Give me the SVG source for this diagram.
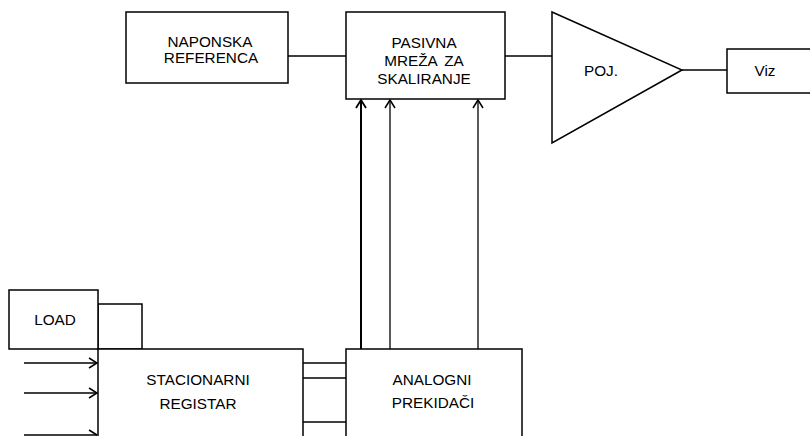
<svg xmlns="http://www.w3.org/2000/svg" width="810" height="436" viewBox="0 0 810 436">
<defs>
<style>
.box{fill:#fff;stroke:#000;stroke-width:1.5}
.ln{fill:none;stroke:#000;stroke-width:1.3}
.hd{fill:none;stroke:#000;stroke-width:1.5}
text{font-family:"Liberation Sans",Arial,sans-serif;font-size:15.3px;fill:#000;text-anchor:middle}
</style>
</defs>
<rect width="810" height="436" fill="#fff"/>
<g id="connectors">
<line class="ln" x1="288" y1="56" x2="346" y2="56"/>
<line class="ln" x1="505" y1="56" x2="552" y2="56"/>
<line class="ln" x1="682" y1="70" x2="727" y2="70"/>
<line class="ln" x1="361" y1="349" x2="361" y2="100" style="stroke-width:2"/>
<polyline class="hd" points="356,108 361,100 366,108" style="stroke-width:1.8"/>
<line class="ln" x1="390" y1="349" x2="390" y2="100"/>
<polyline class="hd" points="385,108 390,100 395,108"/>
<line class="ln" x1="478" y1="349" x2="478" y2="100"/>
<polyline class="hd" points="473,108 478,100 483,108"/>
<line class="ln" x1="303" y1="363" x2="346" y2="363"/>
<line class="ln" x1="303" y1="378" x2="346" y2="378"/>
<line class="ln" x1="303" y1="422" x2="346" y2="422"/>
<line class="ln" x1="24" y1="363" x2="97" y2="363"/>
<polyline class="hd" points="89,358 97,363 89,368"/>
<line class="ln" x1="24" y1="393" x2="97" y2="393"/>
<polyline class="hd" points="89,388 97,393 89,398"/>
<line class="ln" x1="24" y1="435" x2="97" y2="435"/>
<polyline class="hd" points="89,430 97,435"/>
</g>
<g id="naponska">
<rect class="box" x="126" y="12" width="162" height="71"/>
<text x="210" y="47">NAPONSKA</text>
<text x="211" y="63">REFERENCA</text>
</g>
<g id="pasivna">
<rect class="box" x="346" y="12" width="159" height="87"/>
<text x="424" y="47.5">PASIVNA</text>
<text x="424" y="66" style="word-spacing:3px">MREŽA ZA</text>
<text x="424" y="84">SKALIRANJE</text>
</g>
<g id="poj">
<polygon class="box" points="552,12 682,70 552,143"/>
<text x="601" y="76">POJ.</text>
</g>
<g id="viz">
<rect class="box" x="727" y="49" width="90" height="44"/>
<text x="765" y="76">Viz</text>
</g>
<g id="load">
<rect class="box" x="98" y="304" width="44" height="45"/>
<rect class="box" x="9" y="290" width="89" height="59"/>
<text x="55" y="324.5">LOAD</text>
</g>
<g id="stacionarni">
<rect class="box" x="98" y="349" width="205" height="100"/>
<text x="198" y="385">STACIONARNI</text>
<text x="198" y="409">REGISTAR</text>
</g>
<g id="analogni">
<rect class="box" x="346" y="349" width="176" height="100"/>
<text x="432" y="384.5">ANALOGNI</text>
<text x="433" y="407.5">PREKIDAČI</text>
</g>
</svg>
